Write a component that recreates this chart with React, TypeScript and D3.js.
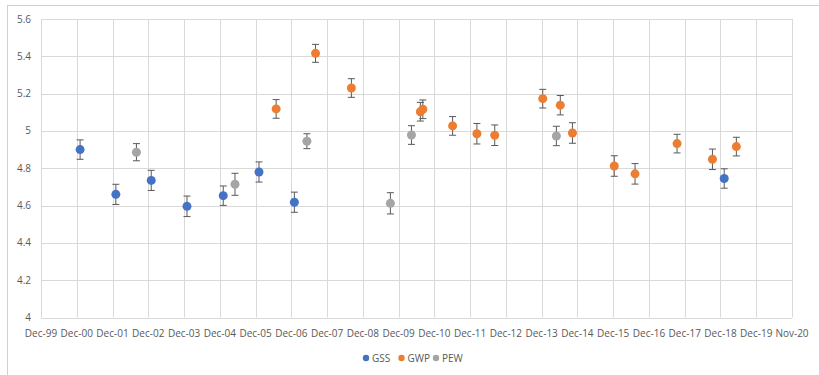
import React from "react";
import * as d3 from "d3";

// Year-spaced axis labels (365-day major unit starting 1 Dec 1999)
const tickLabels = [
  "Dec-99", "Dec-00", "Dec-01", "Dec-02", "Dec-03", "Dec-04", "Dec-05",
  "Dec-06", "Dec-07", "Dec-08", "Dec-09", "Dec-10", "Dec-11", "Dec-12",
  "Dec-13", "Dec-14", "Dec-15", "Dec-16", "Dec-17", "Dec-18", "Dec-19", "Nov-20",
];
const yTicks = [4, 4.2, 4.4, 4.6, 4.8, 5, 5.2, 5.4, 5.6];

const gssDates = ["2001-01-03", "2002-01-03", "2002-12-30", "2003-12-30", "2005-01-03", "2006-01-03", "2006-12-30", "2019-01-03"];
const gssValues = [4.9, 4.66, 4.735, 4.596, 4.653, 4.78, 4.618, 4.745];
const gssErrors = [0.052, 0.054, 0.054, 0.055, 0.052, 0.054, 0.054, 0.052];

const gwpDates = [
  "2006-06-27", "2007-08-03", "2008-08-03", "2010-07-08", "2010-08-02", "2011-06-02",
  "2012-02-05", "2012-08-05", "2013-12-08", "2014-06-05", "2014-10-07", "2015-12-08",
  "2016-07-07", "2017-09-09", "2018-09-05", "2019-05-07",
];
const gwpValues = [5.118, 5.416, 5.23, 5.103, 5.116, 5.027, 4.985, 4.977, 5.173, 5.138, 4.989, 4.812, 4.77, 4.932, 4.848, 4.916];
const gwpErrors = [0.05, 0.048, 0.05, 0.05, 0.05, 0.05, 0.055, 0.055, 0.05, 0.052, 0.055, 0.055, 0.055, 0.05, 0.055, 0.05];

const pewDates = ["2002-08-01", "2005-05-03", "2007-05-07", "2009-09-05", "2010-04-08", "2014-04-26"];
const pewValues = [4.886, 4.714, 4.945, 4.612, 4.978, 4.973];
const pewErrors = [0.046, 0.059, 0.04, 0.057, 0.05, 0.052];

const seriesNames = ["GSS", "GWP", "PEW"];
const seriesColors = ["#4472C4", "#ED7D31", "#A5A5A5"];

const W = 819;
const H = 375;
const plot = { left: 41, right: 792, top: 19, bottom: 317.5 };

const axisStart = new Date(1999, 11, 1);
const tickDates = tickLabels.map((_, i) => d3.timeDay.offset(axisStart, i * 365));

const x = d3
  .scaleTime()
  .domain([tickDates[0], tickDates[tickDates.length - 1]])
  .range([plot.left, plot.right]);
const y = d3.scaleLinear().domain([4, 5.6]).range([plot.bottom, plot.top]);

const parse = d3.timeParse("%Y-%m-%d");

const series = [
  { dates: gssDates, values: gssValues, errors: gssErrors },
  { dates: gwpDates, values: gwpValues, errors: gwpErrors },
  { dates: pewDates, values: pewValues, errors: pewErrors },
].map((s, k) => ({
  name: seriesNames[k],
  color: seriesColors[k],
  points: s.dates.map((d, i) => ({ date: parse(d) as Date, value: s.values[i], err: s.errors[i] })),
}));

const textColor = "#595959";
const gridColor = "#D9D9D9";
const font = "'Open Sans', sans-serif";

export default function App() {
  const cap = 3.5;
  const legendX = [366, 401.5, 436];
  return (
    <svg
      width={W}
      height={H}
      style={{ position: "absolute", left: 0, top: 0, background: "#fff" }}
      fontFamily={font}
    >
      <rect x={0} y={0} width={W} height={H} fill="#fff" />
      {/* chart area frame */}
      <rect x={7.5} y={5.5} width={W + 10} height={H + 10} fill="none" stroke="#D0D0D0" strokeWidth={1} />

      {/* horizontal gridlines */}
      {yTicks.map((t) => (
        <line
          key={"h" + t}
          x1={plot.left}
          x2={plot.right}
          y1={Math.round(y(t)) + 0.5}
          y2={Math.round(y(t)) + 0.5}
          stroke={gridColor}
          strokeWidth={1}
        />
      ))}
      {/* vertical gridlines */}
      {tickDates.map((d, i) => (
        <line
          key={"v" + i}
          x1={Math.round(x(d)) + 0.5}
          x2={Math.round(x(d)) + 0.5}
          y1={plot.top}
          y2={plot.bottom}
          stroke={gridColor}
          strokeWidth={1}
        />
      ))}

      {/* y tick labels */}
      {yTicks.map((t) => (
        <text
          key={"yl" + t}
          x={31}
          y={y(t)}
          dy="0.35em"
          textAnchor="end"
          fontSize={10}
          fill={textColor}
        >
          {d3.format("~g")(t)}
        </text>
      ))}
      {/* x tick labels */}
      {tickDates.map((d, i) => (
        <text
          key={"xl" + i}
          x={x(d)}
          y={333}
          dy="0.35em"
          textAnchor="middle"
          fontSize={10}
          fill={textColor}
        >
          {tickLabels[i]}
        </text>
      ))}

      {/* error bars and markers */}
      {series.map((s) => (
        <g key={s.name}>
          {s.points.map((p, i) => {
            const cx = x(p.date);
            const y0 = y(p.value + p.err);
            const y1 = y(p.value - p.err);
            return (
              <g key={i} stroke="#595959" strokeWidth={1}>
                <line x1={cx} x2={cx} y1={y0} y2={y1} />
                <line x1={cx - cap} x2={cx + cap} y1={y0} y2={y0} />
                <line x1={cx - cap} x2={cx + cap} y1={y1} y2={y1} />
              </g>
            );
          })}
          {s.points.map((p, i) => (
            <circle key={"c" + i} cx={x(p.date)} cy={y(p.value)} r={4.5} fill={s.color} />
          ))}
        </g>
      ))}

      {/* legend */}
      {series.map((s, k) => (
        <g key={"lg" + s.name}>
          <circle cx={legendX[k]} cy={358} r={3.2} fill={s.color} />
          <text x={legendX[k] + 6} y={358} dy="0.35em" fontSize={10} fill={textColor}>
            {s.name}
          </text>
        </g>
      ))}
    </svg>
  );
}
